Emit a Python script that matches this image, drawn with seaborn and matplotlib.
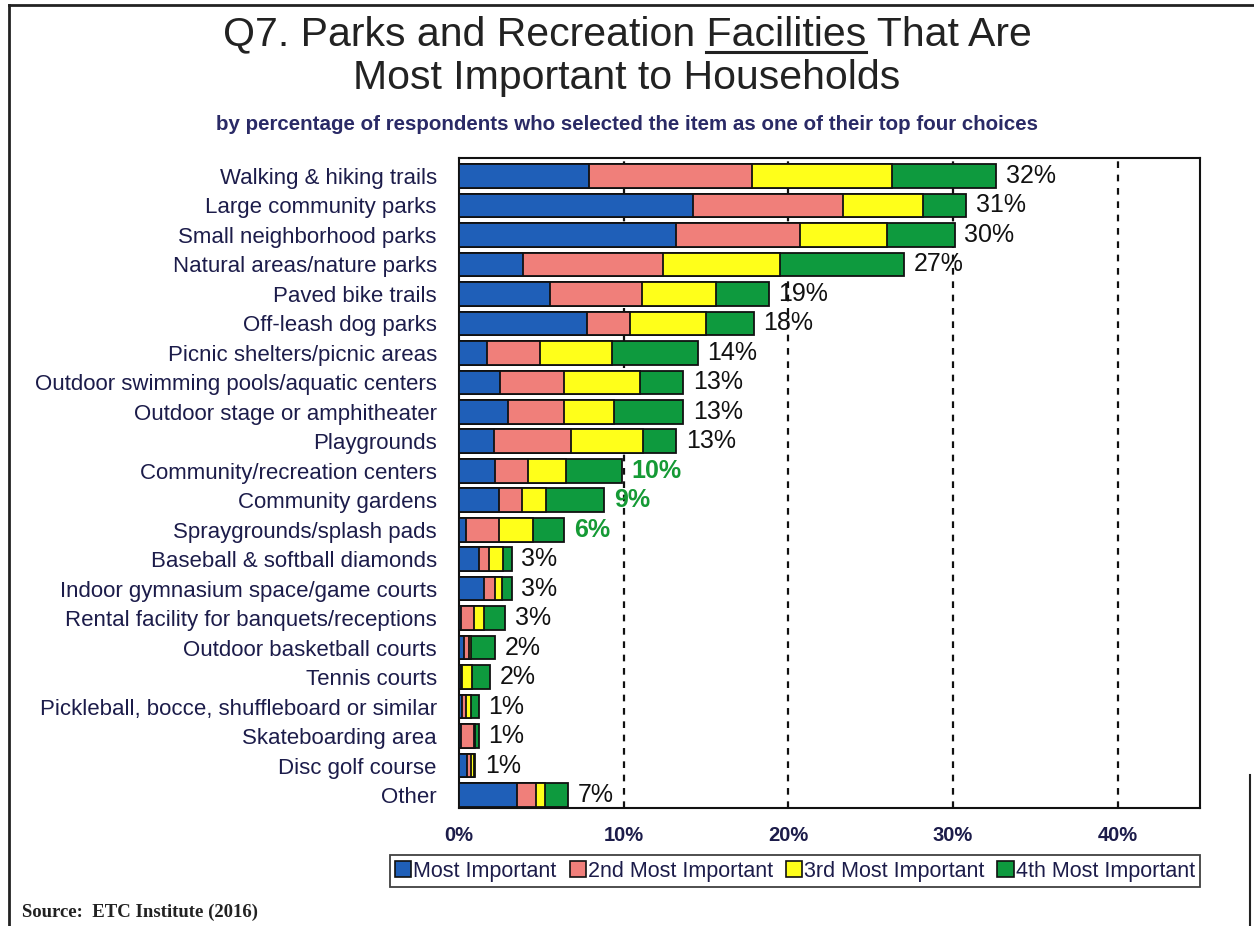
import numpy as np
import pandas as pd
import seaborn as sns
import matplotlib.pyplot as plt
from matplotlib.lines import Line2D
from matplotlib.patches import Patch

# data
facilities = [
    "Walking & hiking trails", "Large community parks", "Small neighborhood parks",
    "Natural areas/nature parks", "Paved bike trails", "Off-leash dog parks",
    "Picnic shelters/picnic areas", "Outdoor swimming pools/aquatic centers",
    "Outdoor stage or amphitheater", "Playgrounds", "Community/recreation centers",
    "Community gardens", "Spraygrounds/splash pads", "Baseball & softball diamonds",
    "Indoor gymnasium space/game courts", "Rental facility for banquets/receptions",
    "Outdoor basketball courts", "Tennis courts",
    "Pickleball, bocce, shuffleboard or similar", "Skateboarding area",
    "Disc golf course", "Other",
]
most_important = [7.9, 14.2, 13.2, 3.9, 5.5, 7.8, 1.7, 2.5, 3.0, 2.1, 2.2, 2.4, 0.4,
                  1.2, 1.5, 0.1, 0.3, 0.1, 0.2, 0.1, 0.5, 3.5]
second = [9.9, 9.1, 7.5, 8.5, 5.6, 2.6, 3.2, 3.9, 3.4, 4.7, 2.0, 1.4, 2.0,
          0.6, 0.7, 0.8, 0.3, 0.1, 0.2, 0.8, 0.2, 1.2]
third = [8.5, 4.9, 5.3, 7.1, 4.5, 4.6, 4.4, 4.6, 3.0, 4.4, 2.3, 1.5, 2.1,
         0.9, 0.4, 0.6, 0.1, 0.6, 0.3, 0.1, 0.2, 0.5]
fourth = [6.3, 2.6, 4.1, 7.5, 3.2, 2.9, 5.2, 2.6, 4.2, 2.0, 3.4, 3.5, 1.9,
          0.5, 0.6, 1.3, 1.5, 1.1, 0.5, 0.2, 0.1, 1.4]
reported = [32, 31, 30, 27, 19, 18, 14, 13, 13, 13, 10, 9, 6, 3, 3, 3, 2, 2, 1, 1, 1, 7]
label_colors = ["#111111"] * 10 + ["#159a35"] * 3 + ["#111111"] * 9

series_names = ["Most Important", "2nd Most Important", "3rd Most Important", "4th Most Important"]
series_colors = ["#1f5fb8", "#f07f7a", "#ffff1a", "#0e9a3e"]
ticks = [0, 10, 20, 30, 40]

df = pd.DataFrame({"facility": facilities, "s1": most_important, "s2": second,
                   "s3": third, "s4": fourth})
cum = df[["s1", "s2", "s3", "s4"]].cumsum(axis=1)
df["total"] = cum["s4"]

plt.rcParams["font.family"] = ["Liberation Sans", "DejaVu Sans"]
navy = "#1c1c4a"

fig = plt.figure(figsize=(12.54, 9.26), dpi=100)
ax = fig.add_axes([459 / 1254, 1 - 808 / 926, (1200 - 459) / 1254, (808 - 158) / 926])

# draw from longest cumulative layer to shortest, so they stack visually
for col, color in zip(["s4", "s3", "s2", "s1"], series_colors[::-1]):
    sns.barplot(x=cum[col], y=df["facility"], color=color, orient="h", width=0.8,
                saturation=1, edgecolor="#111111", linewidth=1.3, ax=ax, zorder=3)

ax.set_xlim(0, 45)
ax.set_ylim(len(facilities) - 0.56, -0.61)
ax.set_xticks(ticks)
ax.set_xticklabels([f"{t}%" for t in ticks], fontsize=14.5, fontweight="bold", color=navy)
ax.tick_params(axis="x", length=0, pad=13)
ax.tick_params(axis="y", length=0, pad=16)
ax.set_yticks(range(len(facilities)))
ax.set_yticklabels(facilities, fontsize=16, color=navy)
ax.set_xlabel("")
ax.set_ylabel("")
for t in ticks[1:]:
    ax.axvline(t, color="#111111", linestyle=(0, (3, 3)), linewidth=1.6, zorder=1)
for sp in ax.spines.values():
    sp.set_color("#111111")
    sp.set_linewidth(1.5)

for i, (tot, lab, c) in enumerate(zip(df["total"], reported, label_colors)):
    ax.annotate(f"{lab}%", (tot, i), xytext=(7, 0), textcoords="offset points",
                va="center", ha="left", fontsize=18, color=c,
                fontweight="bold" if c != "#111111" else "normal", zorder=5)

handles = [Patch(facecolor=c, edgecolor="#111111", linewidth=1.2) for c in series_colors]
leg = fig.legend(handles, series_names, loc="center", bbox_to_anchor=(795 / 1254, 1 - 871 / 926),
                 ncol=4, frameon=True, fancybox=False, fontsize=15.5, handlelength=0.75,
                 handleheight=0.75, handletextpad=0.1, columnspacing=0.6,
                 borderpad=0.25, edgecolor="#111111")
leg.get_frame().set_linewidth(1.3)
for txt in leg.get_texts():
    txt.set_color(navy)

# title, with the word "Facilities" underlined
line1 = "Q7. Parks and Recreation Facilities That Are"
t1 = fig.text(0.5, 1 - 34 / 926, line1, ha="center", va="center", fontsize=29.5, color="#222222")
fig.text(0.5, 1 - 78 / 926, "Most Important to Households", ha="center", va="center",
         fontsize=29.5, color="#222222")
fig.text(0.5, 1 - 124 / 926,
         "by percentage of respondents who selected the item as one of their top four choices",
         ha="center", va="center", fontsize=14.8, fontweight="bold", color="#2a2a66")

fig.canvas.draw()
renderer = fig.canvas.get_renderer()
bb = t1.get_window_extent(renderer)
pre = fig.text(0, 0, "Q7. Parks and Recreation ", fontsize=29.5)
word = fig.text(0, 0, "Facilities", fontsize=29.5)
wpre = pre.get_window_extent(renderer).width
wword = word.get_window_extent(renderer).width
pre.remove()
word.remove()
x0 = (bb.x0 + wpre) / fig.bbox.width
x1 = (bb.x0 + wpre + wword) / fig.bbox.width
yu = 1 - 52 / 926
fig.add_artist(Line2D([x0, x1], [yu, yu], color="#222222", linewidth=2.2))

fig.text(22 / 1254, 1 - 912 / 926, "Source:  ETC Institute (2016)", ha="left", va="center",
         fontsize=13.5, fontweight="bold", family=["Liberation Serif", "DejaVu Serif"],
         color="#222222")

# outer frame lines
fig.add_artist(Line2D([9 / 1254, 9 / 1254], [0, 1 - 5 / 926], color="#222222", linewidth=2))
fig.add_artist(Line2D([9 / 1254, 1], [1 - 5 / 926, 1 - 5 / 926], color="#222222", linewidth=2))
fig.add_artist(Line2D([1250 / 1254, 1250 / 1254], [0, 1 - 775 / 926], color="#222222", linewidth=1.5))

fig.savefig("out.png", dpi=100, facecolor="white")
